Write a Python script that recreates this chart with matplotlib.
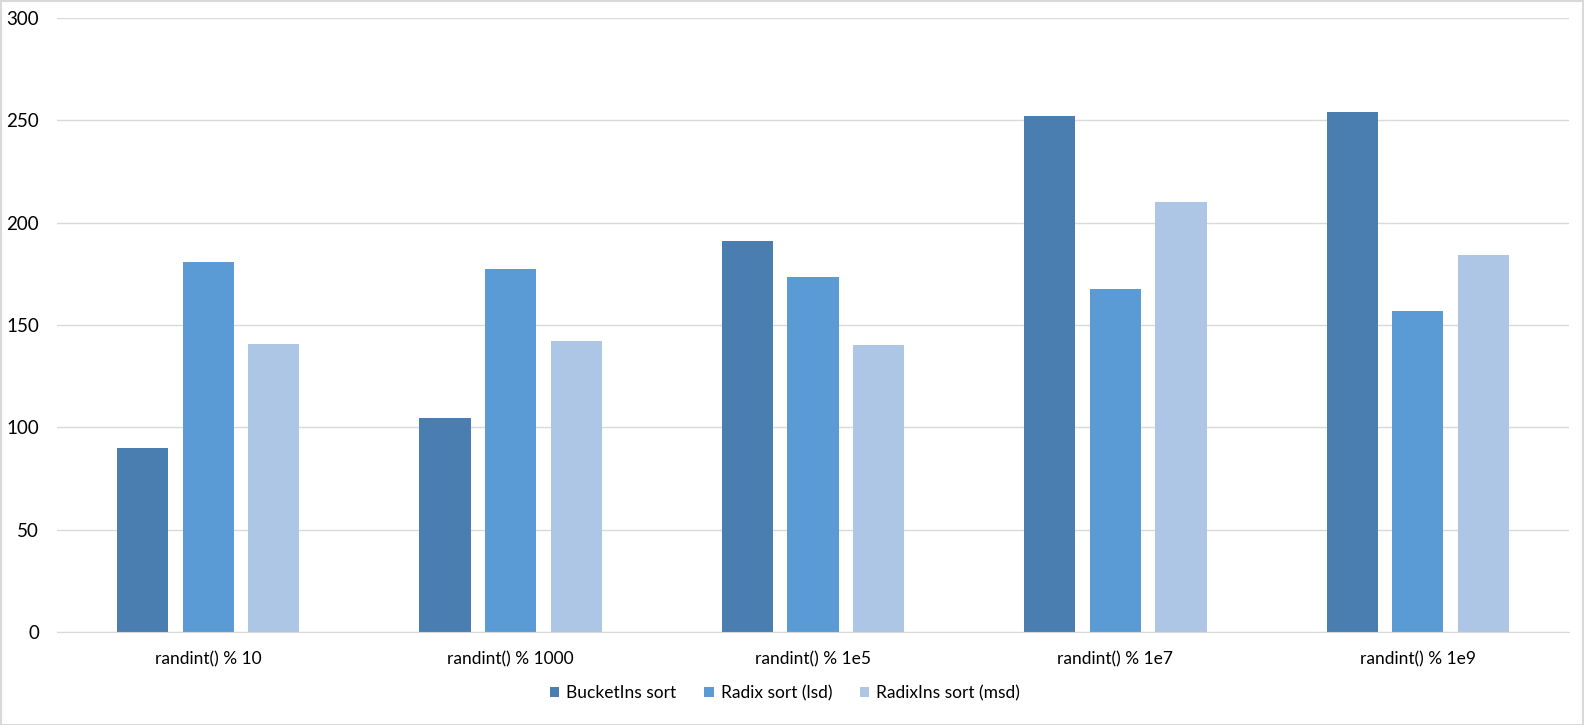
import numpy as np
import matplotlib.pyplot as plt
from matplotlib.patches import Rectangle

categories = ["randint() % 10", "randint() % 1000", "randint() % 1e5", "randint() % 1e7", "randint() % 1e9"]
series_names = ["BucketIns sort", "Radix sort (lsd)", "RadixIns sort (msd)"]
bucket_ins = [90, 104.5, 191, 252, 254]
radix_lsd = [181, 177.5, 173.5, 167.5, 157]
radix_ins_msd = [140.5, 142, 140, 210, 184]
colors = ["#4A7EB0", "#5B9BD5", "#ADC6E5"]

plt.rcParams['font.family'] = ['Lato', 'DejaVu Sans']

fig = plt.figure(figsize=(15.84, 7.25), dpi=100)
ax = fig.add_axes([57/1584, 93/725, 1512/1584, 614/725])

x = np.arange(len(categories))
w = 0.169
step = 0.217
for k, (vals, name) in enumerate(zip([bucket_ins, radix_lsd, radix_ins_msd], series_names)):
    ax.bar(x + (k - 1) * step, vals, width=w, color=colors[k], label=name, zorder=3)

ax.set_xlim(-0.5, len(categories) - 0.5)
ax.set_ylim(0, 300)
ax.set_yticks(range(0, 301, 50))
ax.set_xticks(x)
ax.set_xticklabels(categories, fontsize=12.5)
ax.tick_params(axis='y', length=0, pad=13, labelsize=13.5)
ax.tick_params(axis='x', length=0, pad=14)
ax.grid(axis='y', color='#D9D9D9', linewidth=1, zorder=0)
for s in ['top', 'right', 'left']:
    ax.spines[s].set_visible(False)
ax.spines['bottom'].set_color('#D9D9D9')
ax.spines['bottom'].set_zorder(4)

leg = ax.legend(loc='center', ncol=3, frameon=False, fontsize=12.5,
                handlelength=0.55, handleheight=0.55, handletextpad=0.4, columnspacing=1.6)
leg.set_bbox_to_anchor((785/1584, 1 - 693/725), transform=fig.transFigure)

fig.patches.append(Rectangle((0.5/1584, 0.5/725), 1 - 1.5/1584, 1 - 1.5/725,
                             transform=fig.transFigure, fill=False, edgecolor='#D9D9D9', linewidth=1.5))

fig.savefig("out.png", dpi=100)
